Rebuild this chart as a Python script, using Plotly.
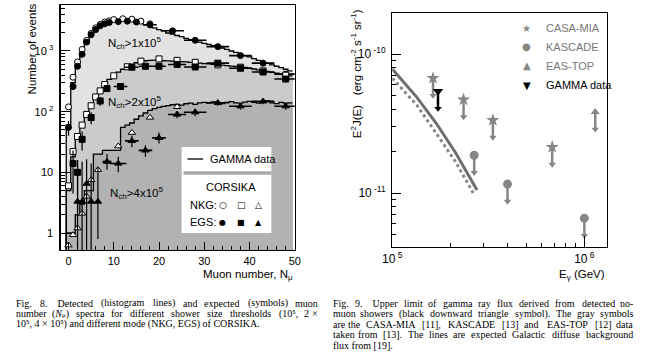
import plotly.graph_objects as go
import numpy as np
import re

W, H = 645, 362

# ---------------- Fig. 8 data (muon number spectra) ----------------
hist_x = list(range(0, 50))
hist1 = [60, 300, 620, 1000, 1450, 1900, 2300, 2650, 2900, 3050,
         3150, 3250, 3300, 3250, 3150, 3000, 2850, 2700, 2550, 2400,
         2250, 2150, 1980, 1900, 1800, 1720, 1620, 1540, 1470, 1400,
         1340, 1290, 1230, 1180, 1120, 1060, 1000, 950, 890, 840,
         800, 750, 700, 660, 625, 590, 560, 530, 500, 470]
hist2 = [5, 18, 36, 58, 85, 120, 170, 220, 280, 340,
         400, 450, 500, 550, 600, 640, 670, 690, 700, 705,
         700, 690, 685, 680, 675, 670, 660, 650, 640, 630,
         620, 612, 605, 595, 585, 575, 565, 555, 545, 535,
         520, 505, 490, 475, 460, 445, 430, 415, 400, 390]
hist3 = [1, 1, 2, 3, 5, 5, 20, 20, 23, 23,
         23, 23, 55, 60, 65, 75, 85, 95, 105, 112,
         118, 122, 126, 130, 132, 128, 135, 138, 132, 140,
         142, 138, 145, 140, 136, 142, 146, 140, 138, 144,
         148, 142, 138, 145, 150, 140, 136, 142, 138, 140]

nkg1_x = [0, 1, 2, 3, 4, 5, 6, 7, 8, 9, 10, 12, 14, 16, 18]
nkg1_y = [120, 370, 660, 1060, 1500, 1950, 2400, 2750, 3000, 3150, 3300, 3400, 3350, 3100, 2800]
egs1_x = [0, 1, 2, 3, 4, 5, 6, 7, 8, 9, 11, 13, 15, 18, 23, 28, 33, 38, 43, 48]
egs1_y = [55, 260, 560, 880, 1400, 1850, 2250, 2600, 2800, 2950, 3050, 3100, 3000, 2700, 2150, 1500, 1180, 840, 630, 415]
egs1_xerr = [0, 0, 0, 0, 0, 0, 0, 0, 0, 0, 0, 0, 0, 1.5, 2.5, 2.5, 2.5, 2.5, 2.5, 2.5]
egs1_yerr = [15, 30, 40, 50, 60, 70, 80, 90, 90, 100, 100, 100, 100, 90, 80, 70, 60, 50, 45, 40]

nkg2_x = [0, 1, 2, 3, 4, 5, 6, 7, 8, 10, 13, 16, 20, 24, 28, 33, 38, 43, 48]
nkg2_y = [6, 22, 39, 60, 90, 125, 175, 220, 280, 390, 550, 680, 740, 700, 650, 590, 540, 470, 400]
egs2_x = [1, 2, 3, 5, 7, 8.5, 11.5, 14, 17, 20, 24, 28, 33, 38, 43, 48]
egs2_y = [14, 10, 35, 80, 150, 240, 260, 540, 560, 560, 600, 545, 630, 520, 450, 345]
egs2_xerr = [0, 0, 0, 0, 0, 0.5, 1.5, 1.5, 1.5, 1.5, 2, 2.5, 2.5, 2.5, 2.5, 2.5]
egs2_yerr_p = [9, 6, 12, 18, 25, 30, 30, 40, 40, 40, 40, 40, 40, 40, 35, 40]
egs2_yerr_m = [9.5, 7.8, 12, 18, 25, 30, 30, 40, 40, 40, 40, 40, 40, 40, 35, 40]

nkg3_x = [0, 1, 2, 3, 4, 5, 6.5, 11, 14, 18, 24]
nkg3_y = [0.63, 0.93, 1.2, 2.1, 4, 7.5, 11, 27, 45, 80, 120]
egs3_x = [2, 3, 4, 5, 6.5, 8.5, 11, 14, 17, 20, 24, 28, 33, 38, 43, 48]
egs3_y = [3.3, 3.3, 6.5, 3.3, 3.3, 15, 14, 33, 23, 37, 90, 98, 140, 123, 148, 123]
egs3_xerr = [0, 0, 0, 0, 0, 1, 1.8, 1.5, 1.5, 1.5, 2, 2.5, 2.5, 2.5, 2.5, 2.5]
egs3_yerr_p = [11.7, 11.7, 10, 10.7, 8.7, 5, 4, 7, 5, 8, 12, 14, 16, 15, 16, 15]
egs3_yerr_m = [3.0, 3.0, 6.2, 3.0, 2.5, 4, 4, 7, 5, 7, 12, 14, 16, 15, 16, 15]

# ---------------- Fig. 9 data (gamma flux upper limits) ----------------
casa_E = [1.63e5, 2.35e5, 3.34e5, 6.8e5]
casa_F = [6.7e-11, 4.7e-11, 3.35e-11, 2.14e-11]
kascade_E = [2.67e5, 3.98e5, 1.0e6]
kascade_F = [1.87e-11, 1.16e-11, 6.6e-12]
eastop_E = [1.14e6]
eastop_F = [3.83e-11]
gamma_E = [1.73e5]
gamma_F = [5.4e-11]
solid_E = [1.0e5, 1.34e5, 1.69e5, 2.14e5, 2.76e5]
solid_F = [7.8e-11, 4.9e-11, 3.19e-11, 1.94e-11, 1.05e-11]
dot_E = [1.0e5, 1.34e5, 1.69e5, 2.14e5, 2.64e5]
dot_F = [6.7e-11, 4.3e-11, 2.7e-11, 1.67e-11, 1.0e-11]

# ---------------- styling constants ----------------
SANS = "Liberation Sans, Arial, sans-serif"
SERIF = "Liberation Serif, Times New Roman, serif"
GRAY = "#868686"
LINEGRAY = "#6e6e6e"
ARROW = 0.75   # relative length of upper-limit arrows
FILL1, FILL2, FILL3 = "#e2e2e2", "#cbcbcb", "#b2b2b2"


def px(x, y):
    return x / W, 1 - y / H


fig = go.Figure()

# histogram fills
for vals, col in [(hist1, FILL1), (hist2, FILL2), (hist3, FILL3)]:
    fig.add_trace(go.Bar(x=hist_x, y=vals, width=1, marker=dict(color=col, line=dict(width=0.6, color=col)),
                         xaxis="x", yaxis="y", showlegend=False, hoverinfo="skip"))

# histogram step lines
for vals in [hist1, hist2, hist3]:
    cx = np.array(hist_x, dtype=float)
    edges = list(cx - 0.5) + [cx[-1] + 0.5]
    sx = [edges[0]] + edges
    sy = [0.1] + list(vals) + [vals[-1]]
    fig.add_trace(go.Scatter(x=sx, y=sy, mode="lines", line=dict(color="black", width=1.3, shape="hv"),
                             xaxis="x", yaxis="y", showlegend=False, hoverinfo="skip"))


def sym(xv, yv, symbol, filled, xerr=None, yp=None, ym=None):
    kw = {}
    if yp is not None:
        kw["error_y"] = dict(type="data", symmetric=False, array=yp, arrayminus=ym,
                             color="black", thickness=1.2, width=0)
    if xerr is not None:
        kw["error_x"] = dict(type="data", array=xerr, color="black", thickness=1.6, width=0)
    fig.add_trace(go.Scatter(x=xv, y=yv, mode="markers",
                             marker=dict(symbol=symbol, size=6 if symbol != "triangle-up" else 6.5,
                                         color="black" if filled else "white",
                                         line=dict(color="black", width=1)),
                             xaxis="x", yaxis="y", showlegend=False, hoverinfo="skip", **kw))


sym(nkg1_x, nkg1_y, "circle", False)
sym(egs1_x, egs1_y, "circle", True, egs1_xerr, egs1_yerr, egs1_yerr)
sym(nkg2_x, nkg2_y, "square", False)
sym(egs2_x, egs2_y, "square", True, egs2_xerr, egs2_yerr_p, egs2_yerr_m)
sym(nkg3_x, nkg3_y, "triangle-up", False)
sym(egs3_x, egs3_y, "triangle-up", True, egs3_xerr, egs3_yerr_p, egs3_yerr_m)

# ---------------- Fig. 9 traces ----------------
fig.add_trace(go.Scatter(x=solid_E, y=solid_F, mode="lines", line=dict(color=LINEGRAY, width=3),
                         xaxis="x2", yaxis="y2", showlegend=False, hoverinfo="skip"))
fig.add_trace(go.Scatter(x=dot_E, y=dot_F, mode="lines", line=dict(color=GRAY, width=3, dash="dot"),
                         xaxis="x2", yaxis="y2", showlegend=False, hoverinfo="skip"))


def upper_limits(E, F, symbol, color, size):
    E = np.array(E)
    F = np.array(F)
    lx, ly = [], []
    for e, f in zip(E, F):
        lx += [e, e, None]
        ly += [f, f * ARROW, None]
    fig.add_trace(go.Scatter(x=lx, y=ly, mode="lines", line=dict(color=color, width=2.5),
                             xaxis="x2", yaxis="y2", showlegend=False, hoverinfo="skip"))
    fig.add_trace(go.Scatter(x=E, y=F * ARROW, mode="markers",
                             marker=dict(symbol="triangle-down", size=6.5, color=color),
                             xaxis="x2", yaxis="y2", showlegend=False, hoverinfo="skip"))
    fig.add_trace(go.Scatter(x=E, y=F, mode="markers",
                             marker=dict(symbol=symbol, size=size, color=color),
                             xaxis="x2", yaxis="y2", showlegend=False, hoverinfo="skip"))


upper_limits(casa_E, casa_F, "star", GRAY, 10)
upper_limits(kascade_E, kascade_F, "circle", GRAY, 9)
upper_limits(eastop_E, eastop_F, "triangle-up", GRAY, 8)
upper_limits(gamma_E, gamma_F, "triangle-down", "black", 9)

# ---------------- axes ----------------
axis_common = dict(showline=True, mirror=True, linecolor="black", linewidth=1.3, showgrid=False,
                   zeroline=False, ticks="inside", tickcolor="black", tickwidth=1,
                   tickfont=dict(family=SANS, size=11, color="black"))

left_minor_x = [v for v in range(2, 50, 2) if v % 10 != 0]
left_minor_y = [k * 10 ** e for e in range(0, 4) for k in range(2, 10) if k * 10 ** e < 6000]
right_minor_x = [k * 1e5 for k in range(2, 10)]
right_minor_y = [k * 1e-12 for k in range(4, 10)] + [k * 1e-11 for k in range(2, 10)]

fig.update_layout(
    width=W, height=H, margin=dict(l=0, r=0, t=0, b=0),
    paper_bgcolor="white", plot_bgcolor="white", barmode="overlay", bargap=0,
    showlegend=False,
    xaxis=dict(domain=[52 / W, 292 / W], range=[-1.724, 50], anchor="y",
               tickvals=[0, 10, 20, 30, 40, 50], ticklen=8,
               minor=dict(tickvals=left_minor_x, ticklen=4, ticks="inside", tickcolor="black"),
               **axis_common),
    yaxis=dict(domain=[1 - 250 / H, 1 - 5 / H], type="log", range=[-0.280, 3.758], anchor="x",
               tickvals=[1, 10, 100, 1000], ticktext=["1", "10", "10<sup> 2</sup>", "10<sup> 3</sup>"],
               ticklen=9, ticklabelstandoff=4,
               minor=dict(tickvals=left_minor_y, ticklen=4, ticks="inside", tickcolor="black"),
               **axis_common),
    xaxis2=dict(domain=[392 / W, 612 / W], type="log", range=[5, 6.117], anchor="y2",
                tickvals=[1e5, 1e6], ticktext=["10<sup> 5</sup>", "10<sup> 6</sup>"], ticklen=11,
                minor=dict(tickvals=right_minor_x, ticklen=4, ticks="inside", tickcolor="black"),
                **{**axis_common, "tickfont": dict(family=SANS, size=12, color="black")}),
    yaxis2=dict(domain=[1 - 247 / H, 1 - 13 / H], type="log", range=[-11.388, -9.705], anchor="x2",
                tickvals=[1e-11, 1e-10], ticktext=["10<sup> -11</sup>", "10<sup> -10</sup>"], ticklen=9,
                ticklabelstandoff=3,
                minor=dict(tickvals=right_minor_y, ticklen=4, ticks="inside", tickcolor="black"),
                **{**axis_common, "tickfont": dict(family=SANS, size=12, color="black")}),
)

ann = []


def text(x, y, s, size=11, xanchor="center", color="black", family=SANS, angle=0, yanchor="middle"):
    ax_, ay_ = px(x, y)
    ann.append(dict(x=ax_, y=ay_, xref="paper", yref="paper", text=s, showarrow=False,
                    xanchor=xanchor, yanchor=yanchor, textangle=angle,
                    font=dict(family=family, size=size, color=color)))


# axis titles
text(23, 49, "Number of events", 11.5, angle=-90)
text(292, 275, "Muon number, N<sub>μ</sub>", 11.5, xanchor="right")
text(355, 74, "E<sup>2</sup>J(E)   (erg cm<sup>-2</sup> s<sup>-1</sup> sr<sup>-1</sup>)", 11.5, angle=-90)
text(612, 275, "E<sub>γ</sub> (GeV)", 11.5, xanchor="right")

# curve labels
text(128, 43, "N<sub>ch</sub>>1x10<sup>5</sup>", 11.5)
text(128, 102, "N<sub>ch</sub>>2x10<sup>5</sup>", 11.5)
text(130, 193, "N<sub>ch</sub>>4x10<sup>5</sup>", 11.5)

# left legend box
shapes = []
bx0, by0 = px(176, 147)
bx1, by1 = px(268, 233)
shapes.append(dict(type="rect", xref="paper", yref="paper", x0=bx0, x1=bx1, y0=by1, y1=by0,
                   fillcolor="white", line=dict(width=0), layer="above"))
sx0, sy0 = px(178, 173)
sx1, _ = px(268, 173)
shapes.append(dict(type="line", xref="paper", yref="paper", x0=sx0, x1=sx1, y0=sy0, y1=sy0,
                   line=dict(color="#a8a8a8", width=3.5), layer="above"))
lx0, ly0 = px(182, 159)
lx1, _ = px(198, 159)
shapes.append(dict(type="line", xref="paper", yref="paper", x0=lx0, x1=lx1, y0=ly0, y1=ly0,
                   line=dict(color="black", width=1.3), layer="above"))
text(203, 159, "GAMMA data", 11, xanchor="left")
text(227, 187, "CORSIKA", 11)
text(183, 205, "NKG:", 11, xanchor="left")
text(183, 222, "EGS:", 11, xanchor="left")
for xs, ch in [(218, "○"), (237, "□"), (255, "△")]:
    text(xs, 205, ch, 9, family="DejaVu Sans")
for xs, ch in [(218, "●"), (237, "■"), (255, "▲")]:
    text(xs, 222, ch, 8, family="DejaVu Sans")

# right legend
for yy, ch, lab, col in [(28, "★", "CASA-MIA", GRAY), (47, "●", "KASCADE", GRAY),
                         (66, "▲", "EAS-TOP", GRAY), (85, "▼", "GAMMA data", "black")]:
    text(530, yy, ch, 10, color=col, family="DejaVu Sans")
    text(548, yy, lab, 11, xanchor="left", color="#777777" if col != "black" else "black")

# ---------------- captions (justified by placing words) ----------------
EM = {}
for c in "abdghknopquvxy":
    EM[c] = 0.5
for c in "ceaz":
    EM[c] = 0.444
for c in "ijlt":
    EM[c] = 0.278
for c in "frI-()[]":
    EM[c] = 0.333
EM["s"] = 0.389
EM["m"] = 0.778
EM["w"] = 0.722
for c in "0123456789":
    EM[c] = 0.5
EM["μ"] = 0.35
for c in ".,:;":
    EM[c] = 0.25
EM["×"] = 0.564
EM["⁵"] = 0.3
EM[" "] = 0.25
EM["\u00a0"] = 0.25


def est_width(word, size):
    plain = re.sub(r"<[^>]+>", "", word)
    return 1.1 * sum(EM.get(c, 0.68 if c.isupper() else 0.5) for c in plain) * size


CAP_SIZE = 10
NB = "\u00a0"


def split_words(s):
    # split on spaces that are not inside an html tag
    return re.split(r" (?![^<]*>)", s)


def justified(words, x0, x1, y, last=False):
    if last:
        text(x0, y, " ".join(words), CAP_SIZE, xanchor="left", family=SERIF)
        return
    widths = [est_width(w, CAP_SIZE) for w in words]
    gap = (x1 - x0 - sum(widths)) / (len(words) - 1)
    pos = x0
    for i, (w, wd) in enumerate(zip(words, widths)):
        if i == 0:
            text(x0, y, w, CAP_SIZE, xanchor="left", family=SERIF)
        elif i == len(words) - 1:
            text(x1, y, w, CAP_SIZE, xanchor="right", family=SERIF)
        else:
            text(pos + wd / 2, y, w, CAP_SIZE, xanchor="center", family=SERIF)
        pos += wd + gap


capL = [("Fig. 8." + NB * 4 + "Detected (histogram lines) and expected (symbols) muon", False),
        ("number (<i>N</i><span style='font-size:7px'>μ</span>) spectra for different shower size thresholds (10⁵, 2 ×", False),
        ("10⁵, 4 × 10⁵) and different mode (NKG, EGS) of CORSIKA.", True)]
capR = [("Fig. 9." + NB * 4 + "Upper limit of gamma ray flux derived from detected no-", False),
        ("muon showers (black downward triangle symbol). The gray symbols", False),
        ("are the CASA-MIA [11], KASCADE [13] and EAS-TOP [12] data", False),
        ("taken from [13]. The lines are expected Galactic diffuse background", False),
        ("flux from [19].", True)]
ys = [303, 313.5, 324, 334.5, 345]
for i, (s, last) in enumerate(capL):
    justified(split_words(s), 4, 318, ys[i], last)
for i, (s, last) in enumerate(capR):
    justified(split_words(s), 329, 641, ys[i], last)

fig.update_layout(annotations=ann, shapes=shapes)
fig.write_html("out.html", config={"displayModeBar": False, "staticPlot": True},
               post_script="document.body.style.margin='0px';document.body.style.overflow='hidden';")
